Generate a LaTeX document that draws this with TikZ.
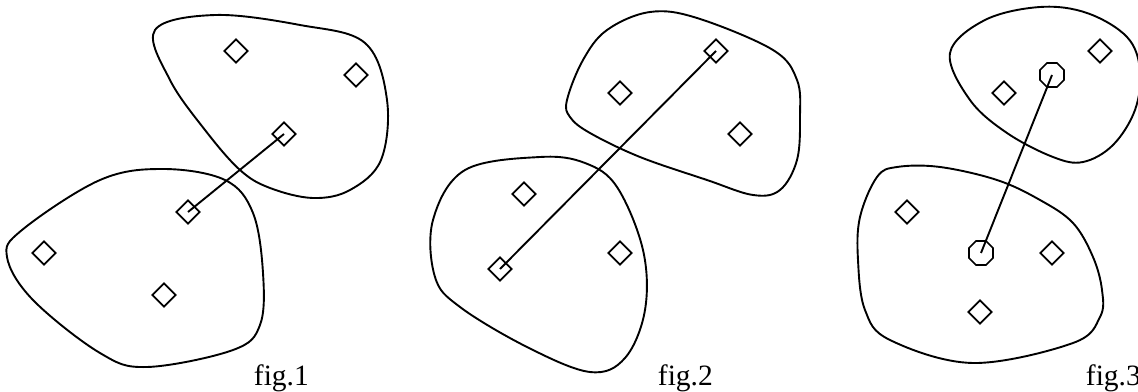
\documentclass[tikz,border=0pt]{standalone}
\usepackage{fontspec}
\setmainfont{Liberation Serif}
\usetikzlibrary{shapes.geometric}

\begin{document}
\begin{tikzpicture}[x=1pt,y=-1pt,line width=1.9pt,
  sample/.style={draw,diamond,aspect=1,minimum size=24pt,inner sep=0pt,line width=1.7pt},
  centre/.style={draw,regular polygon,regular polygon sides=8,minimum size=26pt,inner sep=0pt,line width=1.7pt},
  caption/.style={anchor=base west,inner sep=0pt,font=\fontsize{29.5}{32}\selectfont}]
\useasboundingbox (0,0) rectangle (1138,391);
% fig.1
\draw plot[smooth cycle,tension=0.6] coordinates {(155,30) (215,15) (300,25) (365,43) (387,100) (381,160) (350,190) (313,198) (270,188) (240,170) (205,130) (170,80)};
\draw plot[smooth cycle,tension=0.6] coordinates {(163,169) (100,180) (22,230) (7,257) (33,300) (100,353) (147,367) (233,350) (260,325) (263,273) (253,213) (225,180)};
\node[sample] (p1) at (236,51) {};
\node[sample] (p2) at (356,75) {};
\node[sample] (p3) at (284,134) {};
\node[sample] (q1) at (188,212) {};
\node[sample] (q2) at (44,253) {};
\node[sample] (q3) at (164,295) {};
\draw (q1.center) -- (p3.center);
\node[caption] (f1) at (253,385) {fig.1};
% fig.2
\draw plot[smooth cycle,tension=0.6] coordinates {(567,100) (583,60) (607,30) (650,12) (697,18) (773,50) (797,80) (800,117) (797,160) (780,190) (753,195) (707,180) (640,157) (590,133) (570,117)};
\draw plot[smooth cycle,tension=0.6] coordinates {(540,157) (465,170) (433,220) (435,277) (460,307) (527,347) (590,372) (625,358) (645,310) (643,250) (617,187) (585,163)};
\node[sample] (r1) at (716,51) {};
\node[sample] (r2) at (620,93) {};
\node[sample] (r3) at (740,134) {};
\node[sample] (s1) at (524,194) {};
\node[sample] (s2) at (500,269) {};
\node[sample] (s3) at (620,253) {};
\draw (s2.center) -- (r1.center);
\node[caption] (f2) at (657,385) {fig.2};
% fig.3
\draw plot[smooth cycle,tension=0.6] coordinates {(950,53) (985,20) (1040,7) (1087,13) (1127,37) (1140,70) (1135,110) (1113,145) (1083,162) (1053,157) (1007,133) (970,100)};
\draw plot[smooth cycle,tension=0.6] coordinates {(877,177) (860,217) (858,260) (865,310) (890,340) (973,363) (1073,343) (1100,317) (1102,290) (1093,257) (1073,223) (1040,200) (997,180) (940,167) (897,167)};
\node[sample] (t1) at (1100,51) {};
\node[centre] (t2) at (1052,75) {};
\node[sample] (t3) at (1004,93) {};
\node[sample] (u1) at (907,212) {};
\node[centre] (u2) at (981,253) {};
\node[sample] (u3) at (1052,253) {};
\node[sample] (u4) at (980,312) {};
\draw (u2.center) -- (t2.center);
\node[caption] (f3) at (1085,385) {fig.3};
\end{tikzpicture}
\end{document}
